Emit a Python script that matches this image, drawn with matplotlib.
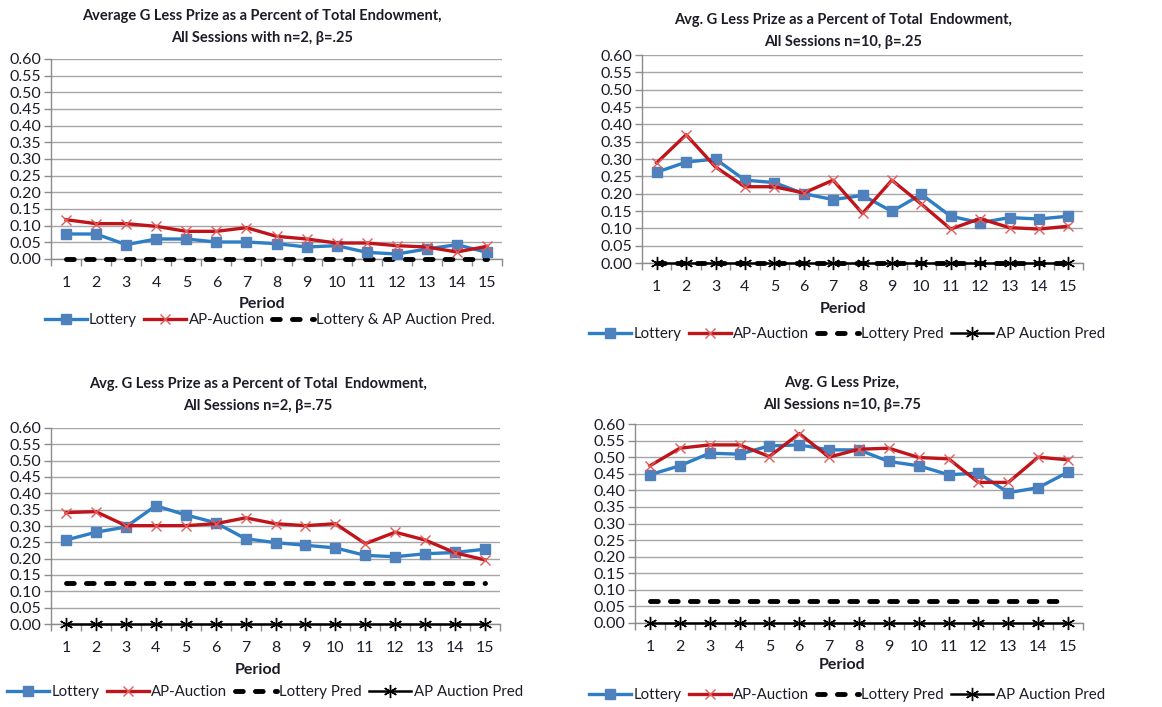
import matplotlib
matplotlib.use("Agg")
import matplotlib.pyplot as plt

plt.rcParams['font.family'] = ['Lato', 'DejaVu Sans']

periods = list(range(1, 16))

# Panel 1: n=2, beta=.25
p1_lottery = [0.075, 0.075, 0.043, 0.060, 0.060, 0.051, 0.051, 0.046, 0.036, 0.040, 0.020, 0.015, 0.030, 0.043, 0.020]
p1_auction = [0.118, 0.106, 0.106, 0.098, 0.083, 0.083, 0.094, 0.068, 0.060, 0.048, 0.048, 0.040, 0.036, 0.021, 0.038]
p1_pred = [0.0] * 15

# Panel 2: n=10, beta=.25
p2_lottery = [0.262, 0.291, 0.300, 0.239, 0.232, 0.200, 0.183, 0.195, 0.149, 0.198, 0.135, 0.116, 0.131, 0.127, 0.135]
p2_auction = [0.289, 0.370, 0.277, 0.220, 0.220, 0.202, 0.239, 0.143, 0.239, 0.170, 0.098, 0.128, 0.102, 0.098, 0.106]
p2_lottery_pred = [0.0] * 15
p2_auction_pred = [0.0] * 15

# Panel 3: n=2, beta=.75
p3_lottery = [0.257, 0.281, 0.297, 0.362, 0.334, 0.310, 0.261, 0.249, 0.241, 0.233, 0.210, 0.206, 0.215, 0.219, 0.229]
p3_auction = [0.341, 0.344, 0.301, 0.301, 0.301, 0.307, 0.325, 0.307, 0.301, 0.307, 0.246, 0.281, 0.257, 0.218, 0.196]
p3_lottery_pred = [0.125] * 15
p3_auction_pred = [0.0] * 15

# Panel 4: n=10, beta=.75
p4_lottery = [0.447, 0.474, 0.512, 0.509, 0.534, 0.537, 0.522, 0.522, 0.487, 0.474, 0.447, 0.452, 0.393, 0.408, 0.455]
p4_auction = [0.474, 0.527, 0.537, 0.537, 0.502, 0.571, 0.500, 0.524, 0.527, 0.499, 0.495, 0.424, 0.424, 0.500, 0.492]
p4_lottery_pred = [0.066] * 15
p4_auction_pred = [0.0] * 15

yticks = [i * 0.05 for i in range(13)]

W, H = 1162, 707
fig = plt.figure(figsize=(W / 100, H / 100), dpi=100)

BLUE = '#2E7EC6'
BLUE_M = '#4F81BD'
RED = '#C0141B'
RED_M = '#E35A5A'
GRID = '#A6A6A6'
TXT = '#1C1C28'


def make_ax(x0, x1, ytop, ybot):
    return fig.add_axes([x0 / W, 1 - ybot / H, (x1 - x0) / W, (ybot - ytop) / H])


def style_ax(ax):
    ax.set_xlim(0.5, 15.5)
    ax.set_ylim(0, 0.6)
    ax.set_yticks(yticks)
    ax.set_yticklabels([f"{v:.2f}" for v in yticks], fontsize=11.5, color=TXT)
    ax.set_xticks(periods)
    ax.set_xticklabels([str(p) for p in periods], fontsize=11.5, color=TXT)
    ax.set_xticks([i + 0.5 for i in range(0, 16)], minor=True)
    ax.tick_params(axis='x', which='major', length=0, pad=12)
    ax.tick_params(axis='x', which='minor', length=5, color='#8C8C8C', width=1)
    ax.tick_params(axis='y', length=5, color='#8C8C8C', width=1, pad=2)
    ax.grid(axis='y', color=GRID, linewidth=1)
    ax.set_axisbelow(True)
    for s in ['top', 'right']:
        ax.spines[s].set_visible(False)
    for s in ['left', 'bottom']:
        ax.spines[s].set_color('#8C8C8C')
        ax.spines[s].set_linewidth(1)
        ax.spines[s].set_zorder(1)


def plot_main(ax, lot, auc):
    ax.plot(periods, lot, color=BLUE, linewidth=2.4, marker='s', markersize=6.5,
            markerfacecolor=BLUE_M, markeredgecolor=BLUE_M, label='Lottery', zorder=4, clip_on=False)
    ax.plot(periods, auc, color=RED, linewidth=2.4, marker='x', markersize=7,
            markeredgecolor=RED_M, markeredgewidth=1.0, label='AP-Auction', zorder=5, clip_on=False)


def plot_dash(ax, vals, label):
    ax.plot(periods, vals, color='black', linewidth=3.5, linestyle=(0, (1.6, 2.5)),
            dash_capstyle='round', label=label, zorder=3, clip_on=False)


def plot_star(ax, vals, label):
    ax.plot(periods, vals, color='black', linewidth=1.8, marker=(6, 2, 0), markersize=9.5,
            markeredgecolor='black', markeredgewidth=1.0, label=label, zorder=3, clip_on=False)


def add_texts(cx, t1, t2, ty, period_y):
    fig.text(cx / W, 1 - ty / H, t1 + "\n" + t2, ha='center', va='center', fontsize=10.5,
             fontweight='bold', color=TXT, linespacing=1.65)
    fig.text(cx / W, 1 - period_y / H, 'Period', ha='center', va='center', fontsize=11.5,
             fontweight='bold', color=TXT)


def add_legend(ax, cx, cy):
    handles, labels = ax.get_legend_handles_labels()
    fig.legend(handles, labels, loc='center', bbox_to_anchor=(cx / W, 1 - cy / H), ncol=len(handles),
               frameon=False, fontsize=10.8, handlelength=2.8, handletextpad=0.15, columnspacing=0.5,
               borderpad=0, labelcolor=TXT)


# Panel 1
ax1 = make_ax(51, 502, 59, 259)
style_ax(ax1)
plot_main(ax1, p1_lottery, p1_auction)
plot_dash(ax1, p1_pred, 'Lottery & AP Auction Pred.')
add_texts(262, 'Average G Less Prize as a Percent of Total Endowment,', 'All Sessions with n=2, \u03b2=.25', 27, 304)
add_legend(ax1, 270, 320)

# Panel 2
ax2 = make_ax(642, 1083, 55, 263)
style_ax(ax2)
plot_main(ax2, p2_lottery, p2_auction)
plot_dash(ax2, p2_lottery_pred, 'Lottery Pred')
plot_star(ax2, p2_auction_pred, 'AP Auction Pred')
add_texts(843, 'Avg. G Less Prize as a Percent of Total  Endowment,', 'All Sessions n=10, \u03b2=.25', 31, 309)
add_legend(ax2, 847, 334)

# Panel 3
ax3 = make_ax(51, 500, 428, 624)
style_ax(ax3)
plot_main(ax3, p3_lottery, p3_auction)
plot_dash(ax3, p3_lottery_pred, 'Lottery Pred')
plot_star(ax3, p3_auction_pred, 'AP Auction Pred')
add_texts(258, 'Avg. G Less Prize as a Percent of Total  Endowment,', 'All Sessions n=2, \u03b2=.75', 395, 670)
add_legend(ax3, 265, 692)

# Panel 4
ax4 = make_ax(635, 1083, 424, 623)
style_ax(ax4)
plot_main(ax4, p4_lottery, p4_auction)
plot_dash(ax4, p4_lottery_pred, 'Lottery Pred')
plot_star(ax4, p4_auction_pred, 'AP Auction Pred')
add_texts(842, 'Avg. G Less Prize,', 'All Sessions n=10, \u03b2=.75', 394, 665)
add_legend(ax4, 847, 695)

fig.savefig('out.png', dpi=100, facecolor='white')
